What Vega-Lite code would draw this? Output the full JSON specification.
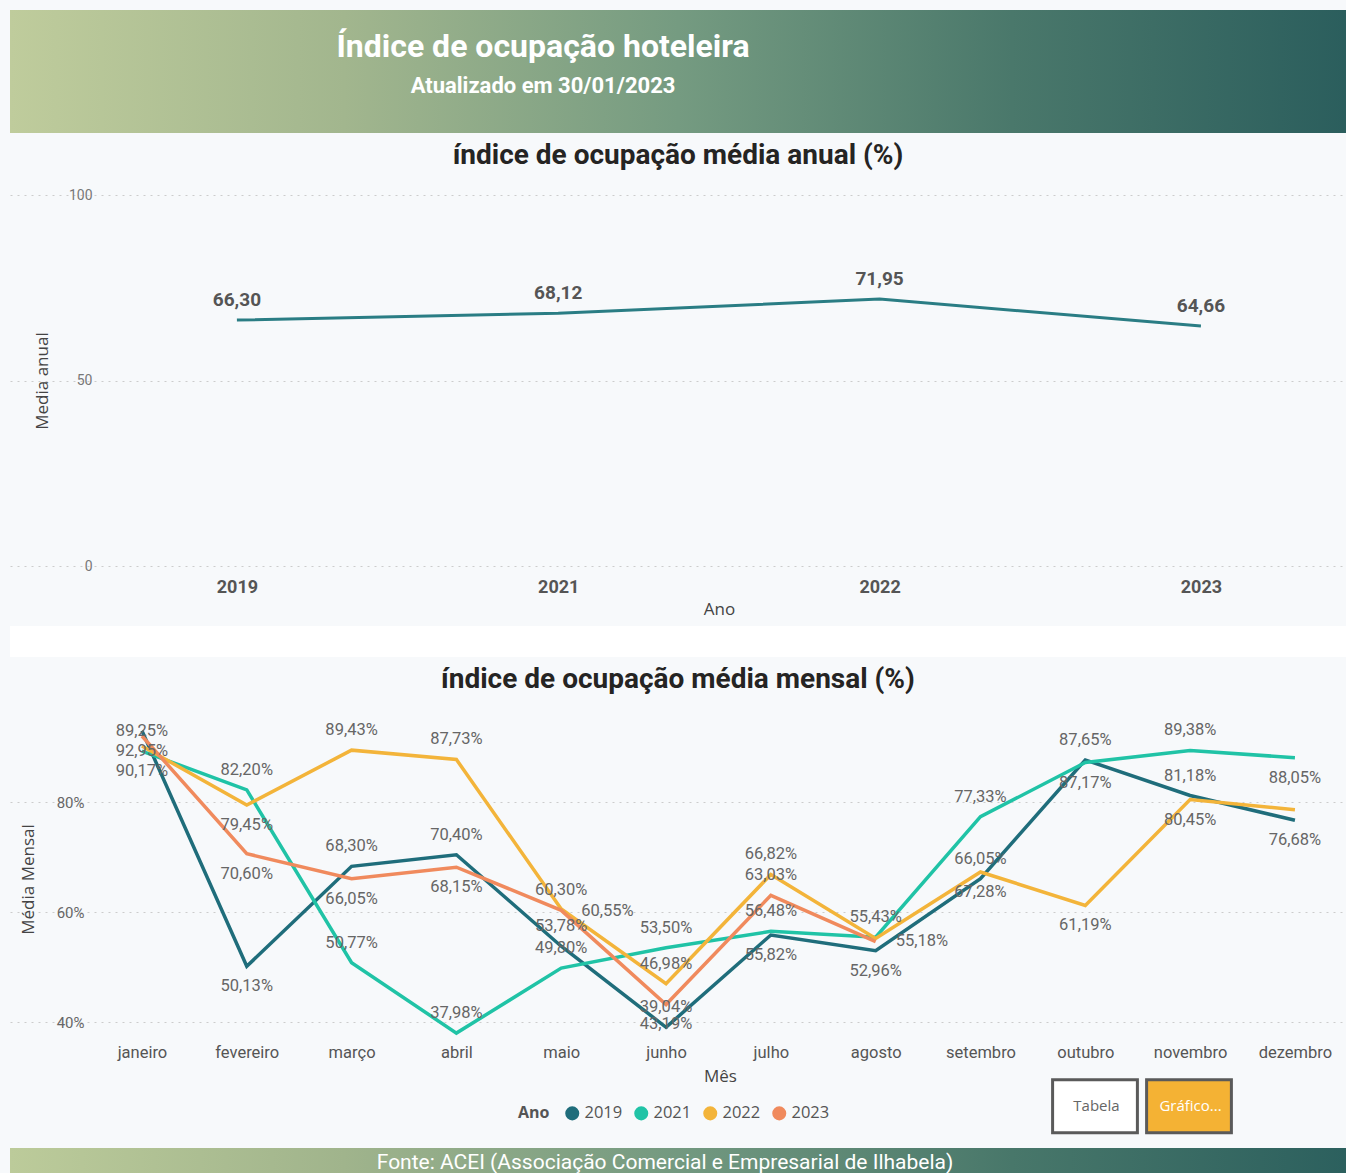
{
  "$schema": "https://vega.github.io/schema/vega-lite/v6.json",
  "background": "#f7f9fb",
  "padding": {"left": 10, "top": 10, "right": 0, "bottom": 0},
  "spacing": 9,
  "resolve": {"scale": {"color": "independent", "fill": "independent"}, "legend": {"color": "independent", "fill": "independent"}},
  "config": {
    "locale": {"number": {"decimal": ",", "thousands": ".", "grouping": [3], "currency": ["R$", ""]}},
    "view": {"stroke": null},
    "font": "Roboto"
  },
  "vconcat": [
    {
      "width": 1336,
      "height": 123,
      "data": {"values": []},
      "mark": "text",
      "view": {"stroke": null, "fill": {"gradient": "linear", "x1": 0, "y1": 0, "x2": 1, "y2": 0, "stops": [{"offset": 0, "color": "#bfcc9c"}, {"offset": 0.25, "color": "#a2b68e"}, {"offset": 0.5, "color": "#759b81"}, {"offset": 0.75, "color": "#4a786b"}, {"offset": 1, "color": "#2b5e5d"}]}},
      "title": {
        "text": "Índice de ocupação hoteleira",
        "subtitle": "Atualizado em 30/01/2023",
        "orient": "top",
        "anchor": "middle",
        "offset": -88,
        "dx": -135,
        "font": "Roboto",
        "fontSize": 32,
        "fontWeight": "bold",
        "color": "#ffffff",
        "subtitleFont": "Roboto",
        "subtitleFontSize": 22,
        "subtitleFontWeight": "bold",
        "subtitleColor": "#ffffff",
        "subtitlePadding": 12
      }
    },
    {
      "width": 1336,
      "height": 371,
      "title": {"text": "índice de ocupação média anual (%)", "font": "Roboto", "fontSize": 28, "fontWeight": "bold", "color": "#252423", "anchor": "middle", "offset": 18},
      "data": {"values": [
        {"ano": "2019", "media": 66.30},
        {"ano": "2021", "media": 68.12},
        {"ano": "2022", "media": 71.95},
        {"ano": "2023", "media": 64.66}
      ]},
      "encoding": {
        "x": {"field": "ano", "type": "ordinal", "scale": {"type": "point", "padding": 0.5788, "align": 0.61},
          "axis": {"title": "Ano", "labelAngle": 0, "domain": false, "ticks": false, "grid": false, "labelPadding": 12, "labelFont": "Roboto", "labelFontSize": 18, "labelFontWeight": "bold", "labelColor": "#555555", "titleFont": "Open Sans", "titleFontSize": 17, "titleFontWeight": "normal", "titleColor": "#444444", "titlePadding": 5, "titleX": 709}},
        "y": {"field": "media", "type": "quantitative", "scale": {"domain": [0, 100], "nice": false},
          "axis": {"title": "Media anual", "values": [0, 50, 100], "offset": -95, "domain": false, "ticks": false, "labelPadding": 13, "labelFont": "Roboto", "labelFontSize": 14, "labelColor": "#777777", "gridColor": "#cccccc", "gridDash": [2, 5], "gridWidth": 1, "titleFont": "Open Sans", "titleFontSize": 17, "titleFontWeight": "normal", "titleColor": "#444444", "titlePadding": 17}}
      },
      "layer": [
        {"mark": {"type": "line", "color": "#2a7d84", "strokeWidth": 3}},
        {"mark": {"type": "text", "dy": -20, "baseline": "middle", "font": "Roboto", "fontSize": 19, "fontWeight": "bold", "color": "#555555"},
         "encoding": {"text": {"field": "media", "type": "quantitative", "format": ".2f"}}}
      ]
    },
    {
      "width": 1336,
      "height": 31,
      "data": {"values": []},
      "mark": "text",
      "view": {"stroke": null, "fill": "#ffffff"}
    },
    {
      "width": 1336,
      "height": 308,
      "title": {"text": "índice de ocupação média mensal (%)", "font": "Roboto", "fontSize": 28, "fontWeight": "bold", "color": "#252423", "anchor": "middle", "offset": 28},
      "encoding": {
        "x": {"field": "mes", "type": "ordinal", "sort": ["janeiro", "fevereiro", "março", "abril", "maio", "junho", "julho", "agosto", "setembro", "outubro", "novembro", "dezembro"],
          "scale": {"type": "point", "padding": 0.873, "align": 0.721},
          "axis": {"title": "Mês", "labelAngle": 0, "domain": false, "ticks": false, "grid": false, "labelPadding": 11, "labelFont": "Roboto", "labelFontSize": 16.5, "labelColor": "#555555", "titleFont": "Open Sans", "titleFontSize": 17, "titleFontWeight": "normal", "titleColor": "#444444", "titlePadding": 8, "titleX": 710}},
        "y": {"field": "taxa", "type": "quantitative", "scale": {"domain": [0.38, 0.94], "nice": false, "zero": false},
          "axis": {"title": "Média Mensal", "values": [0.4, 0.6, 0.8], "format": ".0%", "offset": -85, "domain": false, "ticks": false, "labelPadding": 11, "labelFont": "Roboto", "labelFontSize": 15, "labelColor": "#666666", "gridColor": "#cccccc", "gridDash": [2, 5], "gridWidth": 1, "titleFont": "Open Sans", "titleFontSize": 17, "titleFontWeight": "normal", "titleColor": "#444444", "titlePadding": 19}}
      },
      "layer": [
        {
          "data": {"values": [
            {"ano": "2019", "mes": "janeiro", "taxa": 0.9295},
            {"ano": "2019", "mes": "fevereiro", "taxa": 0.5013},
            {"ano": "2019", "mes": "março", "taxa": 0.6830},
            {"ano": "2019", "mes": "abril", "taxa": 0.7040},
            {"ano": "2019", "mes": "maio", "taxa": 0.5378},
            {"ano": "2019", "mes": "junho", "taxa": 0.3904},
            {"ano": "2019", "mes": "julho", "taxa": 0.5582},
            {"ano": "2019", "mes": "agosto", "taxa": 0.5296},
            {"ano": "2019", "mes": "setembro", "taxa": 0.6605},
            {"ano": "2019", "mes": "outubro", "taxa": 0.8765},
            {"ano": "2019", "mes": "novembro", "taxa": 0.8118},
            {"ano": "2019", "mes": "dezembro", "taxa": 0.7668},
            {"ano": "2021", "mes": "janeiro", "taxa": 0.8925},
            {"ano": "2021", "mes": "fevereiro", "taxa": 0.8220},
            {"ano": "2021", "mes": "março", "taxa": 0.5077},
            {"ano": "2021", "mes": "abril", "taxa": 0.3798},
            {"ano": "2021", "mes": "maio", "taxa": 0.4980},
            {"ano": "2021", "mes": "junho", "taxa": 0.5350},
            {"ano": "2021", "mes": "julho", "taxa": 0.5648},
            {"ano": "2021", "mes": "agosto", "taxa": 0.5543},
            {"ano": "2021", "mes": "setembro", "taxa": 0.7733},
            {"ano": "2021", "mes": "outubro", "taxa": 0.8717},
            {"ano": "2021", "mes": "novembro", "taxa": 0.8938},
            {"ano": "2021", "mes": "dezembro", "taxa": 0.8805},
            {"ano": "2022", "mes": "janeiro", "taxa": 0.9017},
            {"ano": "2022", "mes": "fevereiro", "taxa": 0.7945},
            {"ano": "2022", "mes": "março", "taxa": 0.8943},
            {"ano": "2022", "mes": "abril", "taxa": 0.8773},
            {"ano": "2022", "mes": "maio", "taxa": 0.6055},
            {"ano": "2022", "mes": "junho", "taxa": 0.4698},
            {"ano": "2022", "mes": "julho", "taxa": 0.6682},
            {"ano": "2022", "mes": "agosto", "taxa": 0.5518},
            {"ano": "2022", "mes": "setembro", "taxa": 0.6728},
            {"ano": "2022", "mes": "outubro", "taxa": 0.6119},
            {"ano": "2022", "mes": "novembro", "taxa": 0.8045},
            {"ano": "2022", "mes": "dezembro", "taxa": 0.7860},
            {"ano": "2023", "mes": "janeiro", "taxa": 0.9200},
            {"ano": "2023", "mes": "fevereiro", "taxa": 0.7060},
            {"ano": "2023", "mes": "março", "taxa": 0.6605},
            {"ano": "2023", "mes": "abril", "taxa": 0.6815},
            {"ano": "2023", "mes": "maio", "taxa": 0.6030},
            {"ano": "2023", "mes": "junho", "taxa": 0.4319},
            {"ano": "2023", "mes": "julho", "taxa": 0.6303},
            {"ano": "2023", "mes": "agosto", "taxa": 0.5460}
          ]},
          "layer": [
            {"mark": {"type": "line", "strokeWidth": 3.5},
             "encoding": {"color": {"field": "ano", "type": "nominal",
               "scale": {"domain": ["2019", "2021", "2022", "2023"], "range": ["#1f6d7b", "#20c3a6", "#f3b43a", "#f08a5d"]},
               "legend": {"title": "Ano", "orient": "none", "legendX": 503, "legendY": 375, "direction": "horizontal", "titleOrient": "left", "titleAnchor": "start", "titleBaseline": "top", "titlePadding": 14, "titleFont": "Open Sans", "titleFontSize": 16, "titleFontWeight": "bold", "titleColor": "#555555", "labelFont": "Open Sans", "labelFontSize": 16.5, "labelColor": "#555555", "symbolType": "circle", "symbolSize": 50, "symbolStrokeWidth": 7, "symbolOpacity": 1, "columnPadding": 0, "labelOffset": 4, "padding": 5}}}},
            {"transform": [{"filter": "indexof(['2021|janeiro','2021|fevereiro','2022|março','2019|março','2021|março','2022|abril','2019|abril','2021|abril','2023|maio','2019|maio','2021|maio','2021|junho','2022|junho','2019|junho','2022|julho','2023|julho','2021|julho','2021|agosto','2021|setembro','2019|setembro','2019|outubro','2021|novembro','2019|novembro'], datum.ano + '|' + datum.mes) >= 0"}],
             "mark": {"type": "text", "dy": -20, "baseline": "middle", "font": "Roboto", "fontSize": 16.5, "color": "#666666"},
             "encoding": {"text": {"field": "taxa", "type": "quantitative", "format": ".2%"}}},
            {"transform": [{"filter": "indexof(['2019|janeiro','2022|fevereiro','2023|fevereiro','2019|fevereiro','2023|março','2023|abril','2023|junho','2019|julho','2019|agosto','2022|setembro','2021|outubro','2022|outubro','2022|novembro','2021|dezembro','2019|dezembro'], datum.ano + '|' + datum.mes) >= 0"}],
             "mark": {"type": "text", "dy": 20, "baseline": "middle", "font": "Roboto", "fontSize": 16.5, "color": "#666666"},
             "encoding": {"text": {"field": "taxa", "type": "quantitative", "format": ".2%"}}},
            {"transform": [{"filter": "datum.ano == '2022' && datum.mes == 'janeiro'"}],
             "mark": {"type": "text", "dy": 25, "baseline": "middle", "font": "Roboto", "fontSize": 16.5, "color": "#666666"},
             "encoding": {"text": {"field": "taxa", "type": "quantitative", "format": ".2%"}}},
            {"transform": [{"filter": "indexof(['2022|maio','2022|agosto'], datum.ano + '|' + datum.mes) >= 0"}],
             "mark": {"type": "text", "dx": 20, "dy": 2, "align": "left", "baseline": "middle", "font": "Roboto", "fontSize": 16.5, "color": "#666666"},
             "encoding": {"text": {"field": "taxa", "type": "quantitative", "format": ".2%"}}}
          ]
        },
        {
          "data": {"values": [{"botao": "Tabela"}, {"botao": "Gráfico..."}]},
          "mark": {"type": "point", "filled": true, "opacity": 0, "size": 1},
          "encoding": {
            "x": {"datum": "janeiro", "type": "ordinal"},
            "y": {"datum": 0.5, "type": "quantitative"},
            "fill": {"field": "botao", "type": "nominal",
              "scale": {"domain": ["Tabela", "Gráfico..."], "range": ["#ffffff", "#f4b234"]},
              "legend": {"title": null, "orient": "none", "legendX": 1057, "legendY": 353, "direction": "horizontal", "symbolType": "M-1.6,-1L1.6,-1L1.6,1L-1.6,1Z", "symbolSize": 2809, "symbolStrokeColor": "#5a5a5a", "symbolStrokeWidth": 3, "symbolOpacity": 1, "labelAlign": "center", "labelOffset": -26.5, "labelFont": "Open Sans", "labelFontSize": 15, "labelColor": {"expr": "datum.label == 'Tabela' ? '#666666' : '#ffffff'"}, "columnPadding": -4, "padding": 0}}
          }
        }
      ]
    },
    {
      "width": 1336,
      "height": 26,
      "data": {"values": []},
      "mark": "text",
      "view": {"stroke": null, "fill": {"gradient": "linear", "x1": 0, "y1": 0, "x2": 1, "y2": 0, "stops": [{"offset": 0, "color": "#bccb9a"}, {"offset": 0.25, "color": "#a0b48c"}, {"offset": 0.5, "color": "#739980"}, {"offset": 0.75, "color": "#48776a"}, {"offset": 1, "color": "#2c605e"}]}},
      "title": {
        "text": "Fonte: ACEI (Associação Comercial e Empresarial de Ilhabela)",
        "orient": "top",
        "anchor": "middle",
        "offset": -25,
        "dx": -13,
        "font": "Roboto",
        "fontSize": 21,
        "fontWeight": "normal",
        "color": "#ffffff"
      }
    }
  ]
}
